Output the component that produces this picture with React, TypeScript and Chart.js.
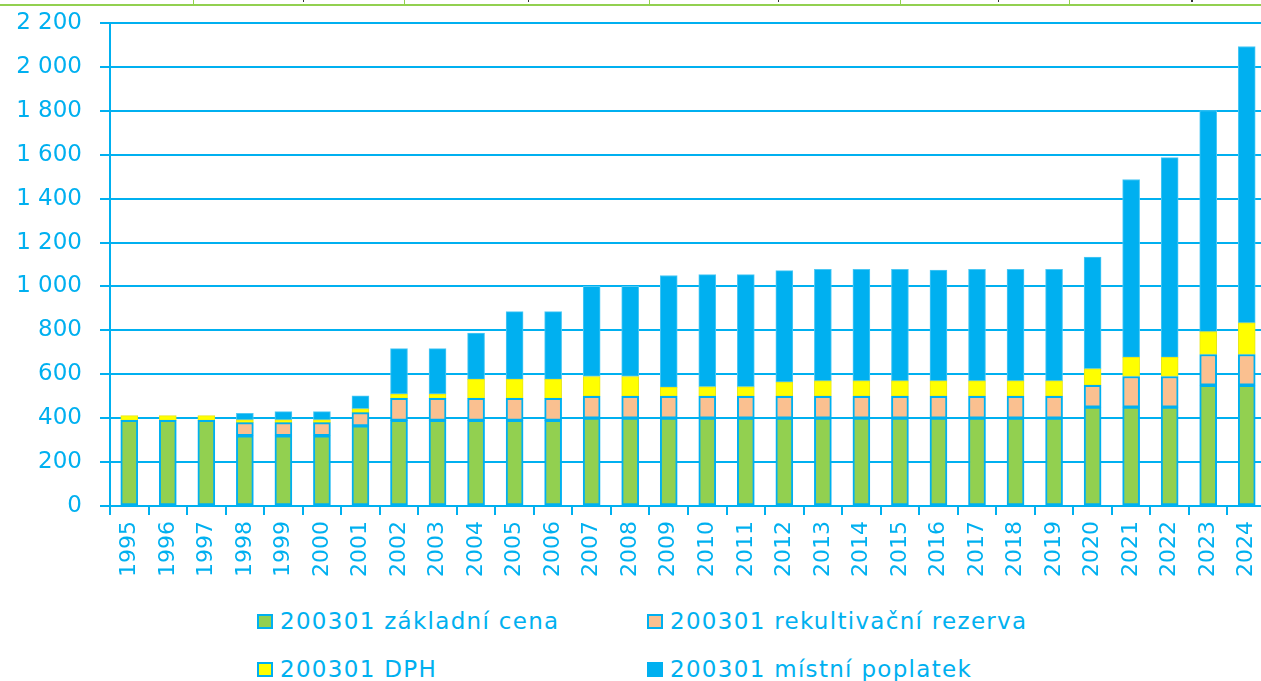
import React, { useEffect, useRef } from "react";
import { Chart, registerables } from "chart.js";

Chart.register(...registerables);

const years = [
  "1995", "1996", "1997", "1998", "1999", "2000", "2001", "2002", "2003", "2004",
  "2005", "2006", "2007", "2008", "2009", "2010", "2011", "2012", "2013", "2014",
  "2015", "2016", "2017", "2018", "2019", "2020", "2021", "2022", "2023", "2024",
];

const zakladniCena = [
  390, 390, 390, 320, 320, 320, 365, 390, 390, 390,
  390, 390, 400, 400, 400, 400, 400, 400, 400, 400,
  400, 400, 400, 400, 400, 450, 450, 450, 550, 550,
];

const rekultivacniRezerva = [
  0, 0, 0, 60, 60, 60, 60, 100, 100, 100,
  100, 100, 100, 100, 100, 100, 100, 100, 100, 100,
  100, 100, 100, 100, 100, 100, 140, 140, 140, 140,
];

const dph = [
  22, 22, 22, 12, 12, 12, 18, 20, 20, 87,
  87, 87, 90, 90, 40, 43, 43, 65, 70, 70,
  70, 70, 70, 70, 70, 75, 87, 87, 104, 144,
];

const mistniPoplatek = [
  0, 0, 0, 30, 38, 38, 59, 207, 207, 211,
  308, 308, 410, 410, 510, 511, 511, 507, 508, 508,
  508, 505, 508, 508, 508, 509, 810, 910, 1007, 1259,
];

const seriesNames = [
  "200301 základní cena",
  "200301 rekultivační rezerva",
  "200301 DPH",
  "200301 místní poplatek",
];

const BLUE = "#00B0F0";
const GREEN = "#92D050";
const ORANGE = "#FAC090";
const YELLOW = "#FFFF00";
const FONT = "'DejaVu Sans', sans-serif";

function formatTick(v: number): string {
  if (v >= 1000) {
    const th = Math.floor(v / 1000);
    const rest = String(v % 1000).padStart(3, "0");
    return th + " " + rest;
  }
  return String(v);
}

export default function App() {
  const canvasRef = useRef<HTMLCanvasElement | null>(null);

  useEffect(() => {
    const canvas = canvasRef.current;
    if (!canvas) return;
    const chart = new Chart(canvas, {
      type: "bar",
      data: {
        labels: years,
        datasets: [
          {
            label: seriesNames[0],
            data: zakladniCena,
            backgroundColor: GREEN,
            borderColor: BLUE,
            borderWidth: 2,
            borderSkipped: false,
            barThickness: 17,
          },
          {
            label: seriesNames[1],
            data: rekultivacniRezerva,
            backgroundColor: ORANGE,
            borderColor: BLUE,
            borderWidth: 2,
            borderSkipped: false,
            barThickness: 17,
          },
          {
            label: seriesNames[2],
            data: dph,
            backgroundColor: YELLOW,
            borderColor: "#E6E61A",
            borderWidth: 1,
            borderSkipped: false,
            barThickness: 17,
          },
          {
            label: seriesNames[3],
            data: mistniPoplatek,
            backgroundColor: BLUE,
            borderColor: "#4CC8F4",
            borderWidth: 1,
            borderSkipped: false,
            barThickness: 17,
          },
        ],
      },
      options: {
        responsive: false,
        animation: false,
        devicePixelRatio: 1,
        layout: { padding: { top: 23, left: 0, right: 0, bottom: 0 } },
        plugins: {
          legend: { display: false },
          tooltip: { enabled: false },
        },
        scales: {
          x: {
            stacked: true,
            offset: true,
            grid: {
              offset: true,
              drawOnChartArea: false,
              drawTicks: true,
              tickLength: 9,
              color: BLUE,
              lineWidth: 2,
            },
            border: { display: true, color: BLUE, width: 2 },
            ticks: {
              minRotation: 90,
              maxRotation: 90,
              autoSkip: false,
              padding: 6,
              color: BLUE,
              font: { family: FONT, size: 22 },
            },
            afterFit: (scale: any) => {
              scale.height = 94;
              scale.paddingLeft = 0;
              scale.paddingRight = 0;
            },
          },
          y: {
            stacked: true,
            min: 0,
            max: 2200,
            ticks: {
              stepSize: 200,
              padding: 18,
              color: BLUE,
              font: { family: FONT, size: 23 },
              callback: (v: any) => formatTick(Number(v)),
            },
            grid: {
              color: BLUE,
              lineWidth: 2,
              tickLength: 10,
              drawTicks: true,
            },
            border: { display: true, color: BLUE, width: 2 },
            afterFit: (scale: any) => {
              scale.width = 110;
              scale.paddingTop = 0;
              scale.paddingBottom = 0;
            },
          },
        },
      },
    });
    return () => chart.destroy();
  }, []);

  const legendItems = [
    { name: seriesNames[0], color: GREEN, left: 257, top: 621 },
    { name: seriesNames[1], color: ORANGE, left: 647, top: 621 },
    { name: seriesNames[2], color: YELLOW, left: 257, top: 669 },
    { name: seriesNames[3], color: BLUE, left: 647, top: 669 },
  ];

  const topLines = [193, 404, 649, 900, 1069];
  const topMarks = [377, 657, 968, 1241, 1481];

  return (
    <div
      style={{
        position: "absolute",
        left: 0,
        top: 0,
        width: 1261,
        height: 681,
        overflow: "hidden",
        background: "#ffffff",
      }}
    >
      <div
        style={{
          position: "absolute",
          left: 0,
          top: 4,
          width: 1261,
          height: 2,
          background: GREEN,
        }}
      />
      {topLines.map((x) => (
        <div
          key={"l" + x}
          style={{
            position: "absolute",
            left: x,
            top: 0,
            width: 1,
            height: 5,
            background: GREEN,
          }}
        />
      ))}
      {topMarks.map((zx, i) => (
        <div
          key={"m" + zx}
          style={{
            position: "absolute",
            left: Math.round((zx * 1261) / 1568),
            top: 0,
            width: i === 4 ? 2 : 1,
            height: 2,
            background: "#333",
          }}
        />
      ))}
      <canvas
        ref={canvasRef}
        width={1266}
        height={600}
        style={{ position: "absolute", left: 0, top: 0, width: 1266, height: 600 }}
      />
      {legendItems.map((it) => (
        <div
          key={it.name}
          style={{
            position: "absolute",
            left: it.left,
            top: it.top - 15,
            height: 30,
            display: "flex",
            alignItems: "center",
            whiteSpace: "nowrap",
          }}
        >
          <span
            style={{
              display: "inline-block",
              boxSizing: "border-box",
              width: 16,
              height: 15,
              background: it.color,
              border: "2px solid " + BLUE,
              marginRight: 7,
            }}
          />
          <span
            style={{
              fontFamily: FONT,
              fontSize: 23,
              color: BLUE,
              letterSpacing: "1.3px",
              lineHeight: "30px",
            }}
          >
            {it.name}
          </span>
        </div>
      ))}
    </div>
  );
}
